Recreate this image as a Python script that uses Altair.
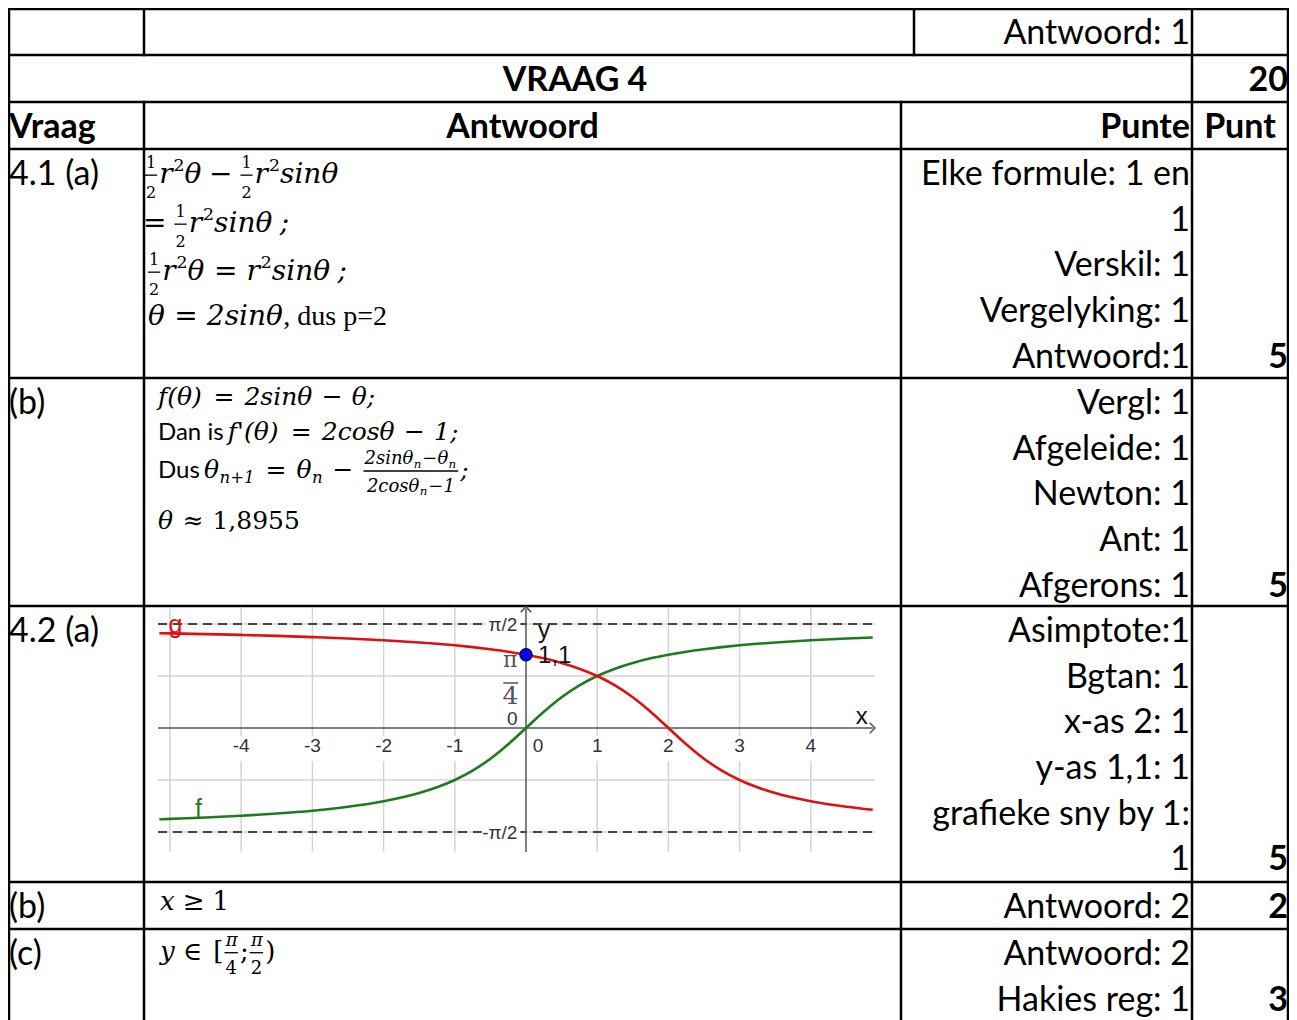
import altair as alt
import pandas as pd

# ======================= CONTENT =======================
vraag_title = "VRAAG 4"
header_texts = ["Vraag", "Antwoord", "Punte", "Punt"]

question_rows = [3, 4, 5, 6, 7]
question_labels = ["4.1 (a)", "(b)", "4.2 (a)", "(b)", "(c)"]

mark_rows = [0, 3, 4, 5, 6, 7]
mark_lines = [
    ["Antwoord: 1"],
    ["Elke formule: 1 en", "1", "Verskil: 1", "Vergelyking: 1", "Antwoord:1"],
    ["Vergl: 1", "Afgeleide: 1", "Newton: 1", "Ant: 1", "Afgerons: 1"],
    ["Asimptote:1", "Bgtan: 1", "x-as 2: 1", "y-as 1,1: 1", "grafieke sny by 1:", "1"],
    ["Antwoord: 2"],
    ["Antwoord: 2", "Hakies reg: 1"],
]

point_rows = [1, 3, 4, 5, 6, 7]
point_line = [0, 4, 4, 5, 0, 1]
point_vals = ["20", "5", "5", "5", "2", "3"]

# graph of f (green) and g (red)
curve_x = [-5.15, -5, -4.5, -4, -3.5, -3, -2.5, -2, -1.5, -1.25, -1, -0.75, -0.5, -0.25,
           0, 0.25, 0.5, 0.75, 1, 1.25, 1.5, 1.75, 2, 2.25, 2.5, 2.75, 3, 3.5, 4, 4.5, 4.87]
f_vals = [-1.379, -1.373, -1.352, -1.326, -1.292, -1.249, -1.190, -1.107, -0.983, -0.896,
          -0.785, -0.644, -0.464, -0.245, 0.0, 0.245, 0.464, 0.644, 0.785, 0.896, 0.983,
          1.052, 1.107, 1.153, 1.190, 1.222, 1.249, 1.292, 1.326, 1.352, 1.368]
g_vals = [1.432, 1.429, 1.418, 1.406, 1.391, 1.373, 1.352, 1.326, 1.292, 1.272, 1.249,
          1.222, 1.190, 1.153, 1.107, 1.052, 0.983, 0.896, 0.785, 0.644, 0.464, 0.245,
          0.0, -0.245, -0.464, -0.644, -0.785, -0.983, -1.107, -1.190, -1.236]
PI = 3.14159
asymptotes = [PI / 2, -PI / 2]
grid_y = [-PI / 2, -PI / 4, PI / 4, PI / 2]
grid_x_full = [-5]
grid_x_split = [-4, -3, -2, -1, 1, 2, 3, 4]
x_tick_labels = ["-4", "-3", "-2", "-1", "0", "1", "2", "3", "4"]
x_tick_pos = [-4, -3, -2, -1, 0.17, 1, 2, 3, 4]
marked_point = (0, 1.107)
marked_label = "1,1"

# ======================= LAYOUT (page pixels) =======================
PAGE_X0, PAGE_X1 = 8, 1289
PAGE_Y0, PAGE_Y1 = 8, 1020
CHART_W = PAGE_X1 - PAGE_X0
CHART_H = PAGE_Y1 - PAGE_Y0

ROW_TOPS = [8, 55, 102, 149, 378, 606, 882, 929]
X_LEFT, X_Q, X_ANS_TOP, X_ANS, X_PTS, X_RIGHT = 9, 144, 914, 901, 1192, 1288
LINE_PITCH = 45.6
FIRST_CENTER = 24
SANS = "Lato"
SANS_SIZE = 34


def center(row, k=0):
    return ROW_TOPS[row] + FIRST_CENTER + k * LINE_PITCH


pieces = []


def add(t, x, y, font, size, style="normal", weight="normal", align="left", color="#000000"):
    pieces.append(dict(t=t, x=x, y=y, font=font, size=size, style=style,
                       weight=weight, align=align, color=color))


base_off = 0.36 * SANS_SIZE
add("Antwoord: 1", X_PTS - 2, center(0) + base_off, SANS, SANS_SIZE, align="right")
add(vraag_title, 575, center(1) + base_off, SANS, SANS_SIZE, weight="bold", align="center")
add(header_texts[0], 9, center(2) + base_off, SANS, SANS_SIZE, weight="bold")
add(header_texts[1], (X_Q + X_ANS) / 2, center(2) + base_off, SANS, SANS_SIZE, weight="bold", align="center")
add(header_texts[2], X_PTS - 2, center(2) + base_off, SANS, SANS_SIZE, weight="bold", align="right")
add(header_texts[3], (X_PTS + X_RIGHT) / 2, center(2) + base_off, SANS, SANS_SIZE, weight="bold", align="center")

for r, lab in zip(question_rows, question_labels):
    add(lab, 9, center(r) + base_off, SANS, SANS_SIZE)
for r, lines in zip(mark_rows[1:], mark_lines[1:]):
    for k, t in enumerate(lines):
        add(t, X_PTS - 2, center(r, k) + base_off, SANS, SANS_SIZE, align="right")
for r, k, t in zip(point_rows, point_line, point_vals):
    add(t, X_RIGHT, center(r, k) + base_off, SANS, SANS_SIZE, weight="bold", align="right")

# ---------- math typesetting ----------
W_SERIF = {' ': 0.318, 'r': 0.478, 's': 0.513, 'i': 0.32, 'n': 0.644, 'θ': 0.62, 'c': 0.56,
           'o': 0.602, 'f': 0.42, 'x': 0.564, 'y': 0.565, '²': 0.402, '−': 0.838, '=': 0.838,
           '≈': 0.838, '≥': 0.838, '∈': 0.871, '(': 0.39, ')': 0.39, '[': 0.39, ';': 0.337,
           ',': 0.318, "'": 0.3, 'π': 0.6, '+': 0.838, 'p': 0.64, 'd': 0.64, 'u': 0.644}
W_TIMES = {' ': 0.25, ',': 0.25, 'd': 0.5, 'u': 0.5, 's': 0.389, 'p': 0.5, '=': 0.564, '2': 0.5}
W_LATO = {'D': 0.74, 'a': 0.51, 'n': 0.56, ' ': 0.2, 'i': 0.24, 's': 0.41, 'u': 0.56}
KIND = {
    'i': ("DejaVu Serif", "italic", W_SERIF),
    'r': ("DejaVu Serif", "normal", W_SERIF),
    't': ("Liberation Serif", "normal", W_TIMES),
    's': (SANS, "normal", W_LATO),
}
SUP, SUB = 0.62, 0.66
bars = []


def width(text, kind):
    tab = KIND[kind][2]
    return sum(tab.get(ch, 0.636 if ch.isdigit() else 0.6) for ch in text)


def tok_width(tok, size):
    k = tok[0]
    if k == 'g':
        return tok[1]
    if k in "irts":
        sz = tok[2] if len(tok) > 2 else size
        return width(tok[1], k) * sz
    if k == 'p':
        return width(tok[1], 'r') * SUP * size + 1
    if k == 'b':
        return width(tok[1], 'i') * SUB * size + 1
    if k == 'f':
        fs = tok[3]
        return max(seq_width(tok[1], fs), seq_width(tok[2], fs)) + 4
    return 0


def seq_width(tokens, size):
    return sum(tok_width(t, size) for t in tokens)


def typeset(x, base, size, tokens):
    for tok in tokens:
        k = tok[0]
        w = tok_width(tok, size)
        if k in "irts":
            font, style, _ = KIND[k]
            sz = tok[2] if len(tok) > 2 else size
            add(tok[1], x, base, font, sz, style=style)
        elif k == 'p':
            add(tok[1], x + 1, base - 0.42 * size, "DejaVu Serif", SUP * size)
        elif k == 'b':
            add(tok[1], x, base + 0.2 * size, "DejaVu Serif", SUB * size, style="italic")
        elif k == 'f':
            num, den, fs = tok[1], tok[2], tok[3]
            nw, dw = seq_width(num, fs), seq_width(den, fs)
            typeset(x + (w - nw) / 2, base - 0.55 * size, fs, num)
            typeset(x + (w - dw) / 2, base + 0.55 * size, fs, den)
            bars.append(dict(x=x + 1, x2=x + w - 1, y=base - 0.28 * size))
            w += 1
        x += w


HALF = ('f', [('r', "1")], [('r', "2")], 16)
M1 = 28
typeset(144, 183, M1, [HALF, ('i', "r"), ('p', "2"), ('i', "θ"), ('g', 7), ('i', "−"), ('g', 7),
                      HALF, ('i', "r"), ('p', "2"), ('i', "sinθ")])
typeset(143, 232, M1, [('i', "="), ('g', 7), HALF, ('i', "r"), ('p', "2"), ('i', "sinθ"), ('g', 7), ('i', ";")])
typeset(147, 280, M1, [HALF, ('i', "r"), ('p', "2"), ('i', "θ"), ('g', 9), ('i', "="), ('g', 9),
                      ('i', "r"), ('p', "2"), ('i', "sinθ"), ('g', 7), ('i', ";")])
typeset(148, 325, M1, [('i', "θ"), ('g', 9), ('i', "="), ('g', 9), ('i', "2sinθ"), ('t', ", dus p=2", 28)])

M2 = 25
typeset(158, 405, M2, [('i', "f(θ)"), ('g', 10), ('i', "="), ('g', 10), ('i', "2sinθ"), ('g', 9),
                      ('i', "−"), ('g', 9), ('i', "θ;")])
typeset(158, 440, M2, [('s', "Dan is", 24), ('g', 6), ('i', "f'(θ)"), ('g', 10), ('i', "="), ('g', 10),
                      ('i', "2cosθ"), ('g', 9), ('i', "−"), ('g', 9), ('i', "1;")])
typeset(158, 478, M2, [('s', "Dus", 24), ('g', 5), ('i', "θ"), ('b', "n+1"), ('g', 10), ('i', "="),
                      ('g', 10), ('i', "θ"), ('b', "n"), ('g', 9), ('i', "−"), ('g', 9),
                      ('f', [('i', "2sinθ"), ('b', "n"), ('i', "−θ"), ('b', "n")],
                       [('i', "2cosθ"), ('b', "n"), ('i', "−1")], 18), ('i', ";")])
typeset(158, 529, M2, [('i', "θ"), ('g', 9), ('r', "≈"), ('g', 9), ('r', "1,8955")])

M3 = 26
typeset(160, 910, M3, [('i', "x"), ('g', 8), ('r', "≥"), ('g', 8), ('r', "1")])
typeset(160, 960, M3, [('i', "y"), ('g', 8), ('r', "∈"), ('g', 8), ('r', "["),
                      ('f', [('i', "π")], [('r', "4")], 18), ('r', ";"),
                      ('f', [('i', "π")], [('r', "2")], 18), ('r', ")")])

# ---------- table rules ----------
h_lines = pd.DataFrame({
    "y": [9, 55, 102, 149, 378, 606, 882, 929],
    "x": [PAGE_X0] * 8,
    "x2": [PAGE_X1] * 8,
})
v_lines = pd.DataFrame({
    "x": [X_LEFT, X_Q, X_Q, X_ANS_TOP, X_ANS, X_PTS, X_RIGHT],
    "y": [8, 8, 102, 8, 102, 8, 8],
    "y2": [PAGE_Y1, 55, PAGE_Y1, 55, PAGE_Y1, PAGE_Y1, PAGE_Y1],
})

XS = alt.Scale(domain=[PAGE_X0, PAGE_X1], nice=False, zero=False)
YS = alt.Scale(domain=[PAGE_Y0, PAGE_Y1], reverse=True, nice=False, zero=False)


def px(field="x"):
    return alt.X(f"{field}:Q", scale=XS, axis=None)


def py(field="y"):
    return alt.Y(f"{field}:Q", scale=YS, axis=None)


layers = []
layers.append(alt.Chart(h_lines).mark_rule(color="black", strokeWidth=2.5, strokeCap="square").encode(
    x=px(), x2="x2:Q", y=py()))
layers.append(alt.Chart(v_lines).mark_rule(color="black", strokeWidth=2.5, strokeCap="square").encode(
    x=px(), y=py(), y2="y2:Q"))
layers.append(alt.Chart(pd.DataFrame(bars)).mark_rule(color="black", strokeWidth=1.3).encode(
    x=px(), x2="x2:Q", y=py()))

pdf = pd.DataFrame(pieces)
for (font, style, weight, align, color), grp in pdf.groupby(["font", "style", "weight", "align", "color"]):
    layers.append(alt.Chart(grp.reset_index(drop=True)).mark_text(
        font=font, fontStyle=style, fontWeight=weight, align=align, baseline="alphabetic", color=color
    ).encode(x=px(), y=py(), text="t:N", size=alt.Size("size:Q", scale=None)))

# ======================= GRAPH (own scales) =======================
ORIGIN_X_PAGE, ORIGIN_Y_PAGE = 526, 728
UNIT_X, UNIT_Y = 71.2, 66.2
GRAPH_L, GRAPH_R, GRAPH_T, GRAPH_B = 158, 875, 607, 852
gx_lo = (GRAPH_L - ORIGIN_X_PAGE) / UNIT_X
gx_hi = (GRAPH_R - ORIGIN_X_PAGE) / UNIT_X
gy_hi = (ORIGIN_Y_PAGE - GRAPH_T) / UNIT_Y
gy_lo = (ORIGIN_Y_PAGE - GRAPH_B) / UNIT_Y
GXS = alt.Scale(domain=[(PAGE_X0 - ORIGIN_X_PAGE) / UNIT_X, (PAGE_X1 - ORIGIN_X_PAGE) / UNIT_X],
                nice=False, zero=False)
GYS = alt.Scale(domain=[(ORIGIN_Y_PAGE - PAGE_Y1) / UNIT_Y, (ORIGIN_Y_PAGE - PAGE_Y0) / UNIT_Y],
                nice=False, zero=False)


def gxe(field="gx"):
    return alt.X(f"{field}:Q", scale=GXS, axis=None)


def gye(field="gy"):
    return alt.Y(f"{field}:Q", scale=GYS, axis=None)


GRID = "#d4d4d4"
LBL_GAP_TOP, LBL_GAP_BOT = -0.12, -0.50
vgrid = pd.DataFrame({
    "gx": grid_x_full + grid_x_split + grid_x_split,
    "gy": [gy_hi] * len(grid_x_full) + [gy_hi] * len(grid_x_split) + [LBL_GAP_BOT] * len(grid_x_split),
    "gy2": [gy_lo] * len(grid_x_full) + [LBL_GAP_TOP] * len(grid_x_split) + [gy_lo] * len(grid_x_split),
})
hgrid = pd.DataFrame({"gy": grid_y, "gx": [gx_lo] * len(grid_y), "gx2": [gx_hi] * len(grid_y)})
layers.append(alt.Chart(vgrid).mark_rule(color=GRID, strokeWidth=1.5).encode(x=gxe(), y=gye(), y2="gy2:Q"))
layers.append(alt.Chart(hgrid).mark_rule(color=GRID, strokeWidth=1.5).encode(x=gxe(), x2="gx2:Q", y=gye()))

asym = pd.DataFrame({"gy": asymptotes, "gx": [gx_lo] * 2, "gx2": [gx_hi] * 2})
layers.append(alt.Chart(asym).mark_rule(color="#444444", strokeWidth=2, strokeDash=[9, 6]).encode(
    x=gxe(), x2="gx2:Q", y=gye()))

# axes
layers.append(alt.Chart(pd.DataFrame({"gy": [0], "gx": [gx_lo], "gx2": [gx_hi - 0.03]})).mark_rule(
    color="#555555", strokeWidth=1.5).encode(x=gxe(), x2="gx2:Q", y=gye()))
layers.append(alt.Chart(pd.DataFrame({"gx": [0], "gy": [gy_lo], "gy2": [gy_hi - 0.03]})).mark_rule(
    color="#555555", strokeWidth=1.5).encode(x=gxe(), y=gye(), y2="gy2:Q"))
layers.append(alt.Chart(pd.DataFrame({"gx": [gx_hi - 0.03], "gy": [0]})).mark_point(
    shape="M -0.6 -1 L 0.4 0 L -0.6 1", filled=False, color="#555555", strokeWidth=1.5, size=110, opacity=1
).encode(x=gxe(), y=gye()))
layers.append(alt.Chart(pd.DataFrame({"gx": [0], "gy": [gy_hi - 0.03]})).mark_point(
    shape="M -1 0.6 L 0 -0.4 L 1 0.6", filled=False, color="#555555", strokeWidth=1.5, size=110, opacity=1
).encode(x=gxe(), y=gye()))

# white masks behind the ±π/2 labels
masks = pd.DataFrame({"gx": [-0.56, -0.62], "gx2": [-0.08, -0.08],
                      "gy": [PI / 2 - 0.13, -PI / 2 - 0.13], "gy2": [PI / 2 + 0.13, -PI / 2 + 0.13]})
layers.append(alt.Chart(masks).mark_rect(color="white").encode(x=gxe(), x2="gx2:Q", y=gye(), y2="gy2:Q"))

# curves
fdf = pd.DataFrame({"gx": curve_x, "gy": f_vals})
gdf = pd.DataFrame({"gx": curve_x, "gy": g_vals})
layers.append(alt.Chart(fdf).mark_line(color="#1e7a1e", strokeWidth=2.6, interpolate="monotone").encode(
    x=gxe(), y=gye()))
layers.append(alt.Chart(gdf).mark_line(color="#dd1111", strokeWidth=2.6, interpolate="monotone").encode(
    x=gxe(), y=gye()))

# marked point
layers.append(alt.Chart(pd.DataFrame({"gx": [marked_point[0]], "gy": [marked_point[1]]})).mark_point(
    shape="circle", filled=True, fill="#0000ff", stroke="#000033", strokeWidth=1.2, size=150, opacity=1
).encode(x=gxe(), y=gye()))

# graph texts
GFONT = "Liberation Sans"
gtexts = pd.DataFrame({
    "gx": x_tick_pos, "gy": [-0.27] * len(x_tick_pos), "t": x_tick_labels})
layers.append(alt.Chart(gtexts).mark_text(font=GFONT, fontSize=19, color="#333333", baseline="middle",
                                          align="center").encode(x=gxe(), y=gye(), text="t:N"))
ylabs = pd.DataFrame({"gx": [-0.12, -0.12, -0.12], "gy": [PI / 2 - 0.02, -PI / 2 - 0.02, 0.14],
                      "t": ["π/2", "-π/2", "0"]})
layers.append(alt.Chart(ylabs).mark_text(font=GFONT, fontSize=19, color="#333333", baseline="middle",
                                         align="right").encode(x=gxe(), y=gye(), text="t:N"))
# π/4 fraction label on the y-axis
pidf = pd.DataFrame({"gx": [-0.22, -0.22], "gy": [1.03, 0.48], "t": ["π", "4"], "s": [22, 25]})
layers.append(alt.Chart(pidf).mark_text(font="DejaVu Serif", color="#555555", baseline="middle",
                                        align="center").encode(
    x=gxe(), y=gye(), text="t:N", size=alt.Size("s:Q", scale=None)))
layers.append(alt.Chart(pd.DataFrame({"gx": [-0.32], "gx2": [-0.11], "gy": [0.68]})).mark_rule(
    color="#555555", strokeWidth=1.5).encode(x=gxe(), x2="gx2:Q", y=gye()))

names = pd.DataFrame({
    "gx": [0.17, 4.63, 0.17],
    "gy": [1.47, 0.17, 1.09],
    "t": ["y", "x", marked_label],
})
layers.append(alt.Chart(names).mark_text(font=GFONT, fontSize=24, color="#111111", baseline="middle",
                                         align="left").encode(x=gxe(), y=gye(), text="t:N"))
layers.append(alt.Chart(pd.DataFrame({"gx": [-5.02], "gy": [1.55], "t": ["g"]})).mark_text(
    font=GFONT, fontSize=25, color="#dd1111", baseline="middle", align="left").encode(
    x=gxe(), y=gye(), text="t:N"))
layers.append(alt.Chart(pd.DataFrame({"gx": [-4.6], "gy": [-1.22], "t": ["f"]})).mark_text(
    font=GFONT, fontSize=25, color="#1e7a1e", baseline="middle", align="center").encode(
    x=gxe(), y=gye(), text="t:N"))

chart = alt.layer(*layers).resolve_scale(x="independent", y="independent").properties(
    width=CHART_W, height=CHART_H, padding=0, autosize=alt.AutoSizeParams(type="none"),
    background="white",
).configure_view(stroke=None)

chart.save("out.html", embed_options={"renderer": "svg", "actions": False})
